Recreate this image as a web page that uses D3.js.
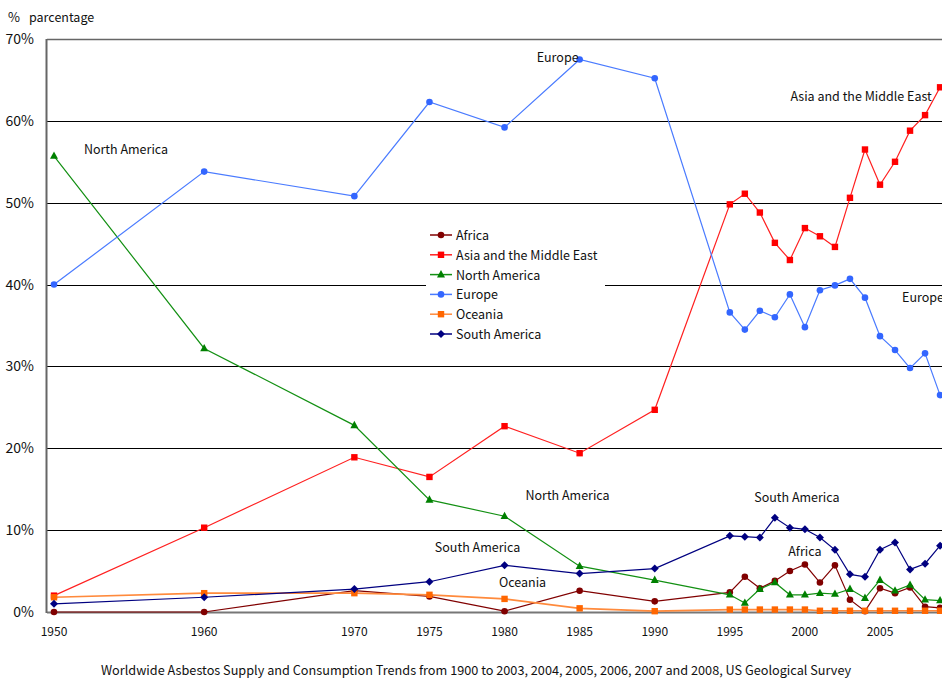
<!DOCTYPE html>
<html>
<head>
<meta charset="utf-8">
<script src="https://cdn.jsdelivr.net/npm/d3@7"></script>
<style>
body { margin: 0; background: #fff; }
text { font-family: "Noto Sans CJK JP", "DejaVu Sans", sans-serif; fill: #111; }
</style>
</head>
<body>
<div id="chart"></div>
<script>
var w = 942,
	h = 681;

// data (percent share)
var years = [1950, 1960, 1970, 1975, 1980, 1985, 1990, 1995, 1996, 1997, 1998, 1999, 2000, 2001, 2002, 2003, 2004, 2005, 2006, 2007, 2008, 2009];
var africa = [0, 0, 2.6, 1.9, 0.1, 2.6, 1.3, 2.4, 4.3, 2.9, 3.8, 5.0, 5.8, 3.6, 5.7, 1.5, 0.1, 2.9, 2.3, 3.0, 0.65, 0.5];
var asia = [2.0, 10.3, 18.9, 16.5, 22.7, 19.4, 24.7, 49.8, 51.1, 48.8, 45.1, 43.0, 46.9, 45.9, 44.6, 50.6, 56.5, 52.2, 55.0, 58.8, 60.7, 64.1];
var northAmerica = [55.7, 32.2, 22.8, 13.7, 11.7, 5.6, 3.9, 2.1, 1.1, 2.8, 3.6, 2.1, 2.1, 2.3, 2.2, 2.8, 1.7, 3.9, 2.6, 3.3, 1.5, 1.4];
var europe = [40.0, 53.8, 50.8, 62.3, 59.2, 67.5, 65.2, 36.6, 34.5, 36.8, 36.0, 38.8, 34.8, 39.3, 39.9, 40.7, 38.4, 33.7, 32.0, 29.8, 31.6, 26.5];
var oceania = [1.8, 2.3, 2.3, 2.1, 1.6, 0.45, 0.1, 0.3, 0.3, 0.3, 0.3, 0.3, 0.3, 0.15, 0.15, 0.15, 0.15, 0.15, 0.15, 0.15, 0.15, 0.15];
var southAmerica = [1.0, 1.8, 2.8, 3.7, 5.7, 4.7, 5.3, 9.3, 9.2, 9.1, 11.5, 10.3, 10.1, 9.1, 7.6, 4.6, 4.3, 7.6, 8.5, 5.2, 5.9, 8.1];

var xTicks = [1950, 1960, 1970, 1975, 1980, 1985, 1990, 1995, 2000, 2005];
var yTicks = [0, 10, 20, 30, 40, 50, 60, 70];

var series = [
	{ name: "Africa", values: africa, color: "#800000", line: "#800000", shape: "circle" },
	{ name: "Asia and the Middle East", values: asia, color: "#ff0000", line: "#ff2020", shape: "square" },
	{ name: "North America", values: northAmerica, color: "#008000", line: "#139013", shape: "triangle" },
	{ name: "Europe", values: europe, color: "#3366ff", line: "#4a7bff", shape: "circle" },
	{ name: "Oceania", values: oceania, color: "#ff6600", line: "#ff8a3c", shape: "square" },
	{ name: "South America", values: southAmerica, color: "#000080", line: "#000080", shape: "diamond" }
];

// in-plot labels
var notes = [
	{ text: "Europe", year: 1985, v: 67.5, dx: -22, dy: 3 },
	{ text: "North America", year: 1950, v: 55.7, dx: 72, dy: -2 },
	{ text: "Asia and the Middle East", year: 2009, v: 64.1, dx: -79, dy: 14 },
	{ text: "Europe", year: 2009, v: 38.4, dx: -17, dy: 4 },
	{ text: "North America", year: 1980, v: 14.2, dx: 63, dy: 4 },
	{ text: "South America", year: 2000, v: 13.9, dx: -8, dy: 4 },
	{ text: "South America", year: 1980, v: 7.8, dx: -27, dy: 4 },
	{ text: "Africa", year: 2000, v: 7.3, dx: 0, dy: 4 },
	{ text: "Oceania", year: 1980, v: 3.5, dx: 18, dy: 4 }
];

var x = d3.scaleLinear().domain([1950, 2005]).range([54, 880]);
var y = d3.scaleLinear().domain([0, 70]).range([612, 39]);
var left = 47;

var root = d3.select("#chart").append("svg").attr("width", w).attr("height", h);

// grid lines
root.selectAll("line.grid").data(yTicks.filter(function(t) { return t > 0 && t < 70; })).enter()
	.append("line").attr("class", "grid")
	.attr("x1", left).attr("x2", w).attr("y1", function(d) { return Math.round(y(d)) + 0.5; }).attr("y2", function(d) { return Math.round(y(d)) + 0.5; })
	.style("stroke", "#000").style("stroke-width", 1);

root.append("line").attr("x1", left).attr("x2", w).attr("y1", Math.round(y(70)) + 0.5).attr("y2", Math.round(y(70)) + 0.5).style("stroke", "#666").style("stroke-width", 1.5);
root.append("line").attr("x1", left).attr("x2", w).attr("y1", Math.round(y(0)) + 0.5).attr("y2", Math.round(y(0)) + 0.5).style("stroke", "#777").style("stroke-width", 2);
root.append("line").attr("x1", left - 0.5).attr("x2", left - 0.5).attr("y1", y(70)).attr("y2", y(0) + 1).style("stroke", "#666").style("stroke-width", 2);

// y tick labels
root.selectAll("text.ytick").data(yTicks).enter().append("text").attr("class", "ytick")
	.attr("x", 34).attr("y", function(d) { return y(d) + 5; })
	.attr("text-anchor", "end").style("font-size", "14px")
	.text(function(d) { return d + "%"; });

// x tick labels
root.selectAll("text.xtick").data(xTicks).enter().append("text").attr("class", "xtick")
	.attr("x", function(d) { return x(d); }).attr("y", 636)
	.attr("text-anchor", "middle").style("font-size", "12px")
	.text(function(d) { return d; });

root.append("text").attr("x", 8).attr("y", 22).style("font-size", "13px").text("%");
root.append("text").attr("x", 29).attr("y", 22).style("font-size", "12.5px").text("parcentage");
root.append("text").attr("x", 476).attr("y", 675).attr("text-anchor", "middle").style("font-size", "12.7px")
	.text("Worldwide Asbestos Supply and Consumption Trends from 1900 to 2003, 2004, 2005, 2006, 2007 and 2008, US Geological Survey");

function marker(sel, shape, color) {
	if (shape === "circle") {
		sel.append("circle").attr("r", 3.3).style("fill", color);
	} else if (shape === "square") {
		sel.append("rect").attr("x", -3.2).attr("y", -3.2).attr("width", 6.4).attr("height", 6.4).style("fill", color);
	} else if (shape === "triangle") {
		sel.append("path").attr("d", "M0,-4.5L4,2.8L-4,2.8Z").style("fill", color);
	} else {
		sel.append("path").attr("d", "M0,-4L4,0L0,4L-4,0Z").style("fill", color);
	}
}

var line = d3.line().x(function(d) { return x(d[0]); }).y(function(d) { return y(d[1]); });

series.forEach(function(s) {
	var pts = years.map(function(yr, i) { return [yr, s.values[i]]; });
	root.append("path").attr("d", line(pts)).style("fill", "none")
		.style("stroke", s.line).style("stroke-width", s.name === "Oceania" ? 1.7 : 1.2);
	var g = root.selectAll(null).data(pts).enter().append("g")
		.attr("transform", function(d) { return "translate(" + x(d[0]) + "," + y(d[1]) + ")"; });
	marker(g, s.shape, s.color);
});

// legend box (white, covers the 40% line)
var lg = root.append("g").attr("transform", "translate(426,225)");
lg.append("rect").attr("x", 0).attr("y", 0).attr("width", 179).attr("height", 121).style("fill", "#fff");
series.forEach(function(s, i) {
	var row = lg.append("g").attr("transform", "translate(0," + (10 + i * 19.8) + ")");
	row.append("line").attr("x1", 4).attr("x2", 26).attr("y1", 0).attr("y2", 0).style("stroke", s.line).style("stroke-width", 1.5);
	var m = row.append("g").attr("transform", "translate(15,0)");
	marker(m, s.shape, s.color);
	row.append("text").attr("x", 30).attr("y", 5).style("font-size", "12.5px").text(s.name);
});

root.selectAll("text.note").data(notes).enter().append("text").attr("class", "note")
	.attr("x", function(d) { return x(d.year) + d.dx; })
	.attr("y", function(d) { return y(d.v) + d.dy; })
	.attr("text-anchor", "middle").style("font-size", "12.5px")
	.text(function(d) { return d.text; });
</script>
</body>
</html>
